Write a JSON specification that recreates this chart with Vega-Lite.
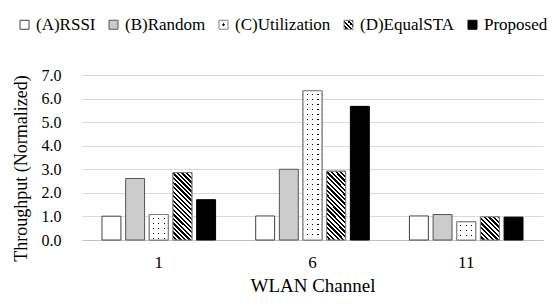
{"$schema":"https://vega.github.io/schema/vega-lite/v6.json","width":461,"height":165,"autosize":{"type":"none"},"padding":{"left":82,"top":75,"right":13,"bottom":68},"background":"white",
"config":{"font":"Liberation Serif","view":{"stroke":null},"axis":{"labelColor":"#000","titleColor":"#000","titleFontWeight":"normal","labelFont":"Liberation Serif","titleFont":"Liberation Serif"},"legend":{"labelFont":"Liberation Serif"}},
"data":{"values":[
{"channel":"1","method":"(A)RSSI","value":1.01},{"channel":"1","method":"(B)Random","value":2.61},{"channel":"1","method":"(C)Utilization","value":1.08},{"channel":"1","method":"(D)EqualSTA","value":2.86},{"channel":"1","method":"Proposed","value":1.71},
{"channel":"6","method":"(A)RSSI","value":1.02},{"channel":"6","method":"(B)Random","value":3.0},{"channel":"6","method":"(C)Utilization","value":6.33},{"channel":"6","method":"(D)EqualSTA","value":2.92},{"channel":"6","method":"Proposed","value":5.67},
{"channel":"11","method":"(A)RSSI","value":1.02},{"channel":"11","method":"(B)Random","value":1.08},{"channel":"11","method":"(C)Utilization","value":0.77},{"channel":"11","method":"(D)EqualSTA","value":0.98},{"channel":"11","method":"Proposed","value":0.97}]},
"encoding":{
"x":{"field":"channel","type":"nominal","scale":{"domain":["1","6","11"],"paddingInner":0.261,"paddingOuter":0.13},"axis":{"title":"WLAN Channel","labelAngle":0,"ticks":false,"domain":true,"domainColor":"#bfbfbf","grid":false,"labelFontSize":17,"labelPadding":14,"titleFontSize":19,"titlePadding":6}},
"xOffset":{"field":"method","type":"nominal","scale":{"domain":["(A)RSSI","(B)Random","(C)Utilization","(D)EqualSTA","Proposed"],"paddingInner":0.2,"paddingOuter":0}},
"y":{"field":"value","type":"quantitative","scale":{"domain":[0,7],"nice":false},"axis":{"title":"Throughput (Normalized)","values":[0,1,2,3,4,5,6,7],"format":".1f","domain":false,"ticks":false,"grid":true,"gridColor":"#d9d9d9","labelFontSize":16,"labelPadding":21,"titleFontSize":18,"titleX":-61,"titleY":93,"titleBaseline":"middle"}}},
"layer":[
{"mark":{"type":"bar","strokeWidth":1},"encoding":{
"fill":{"field":"method","type":"nominal","scale":{"domain":["(A)RSSI","(B)Random","(C)Utilization","(D)EqualSTA","Proposed"],"range":["#fff","#ccc",
{"expr":"{gradient:'radial',x1:.5,y1:.5,r1:0,x2:.5,y2:.5,r2:.5,stops:[{offset:0,color:'#000'},{offset:.24,color:'#000'},{offset:.24,color:'#fff'},{offset:1,color:'#fff'}]}"},
{"expr":"{gradient:'linear',x1:0,y1:1,x2:1,y2:0,stops:[{offset:0,color:'#fff'},{offset:.125,color:'#fff'},{offset:.125,color:'#000'},{offset:.25,color:'#000'},{offset:.25,color:'#fff'},{offset:.375,color:'#fff'},{offset:.375,color:'#000'},{offset:.5,color:'#000'},{offset:.5,color:'#fff'},{offset:.625,color:'#fff'},{offset:.625,color:'#000'},{offset:.75,color:'#000'},{offset:.75,color:'#fff'},{offset:.875,color:'#fff'},{offset:.875,color:'#000'},{offset:1,color:'#000'}]}"},
"#000"]},
"legend":{"orient":"none","legendX":-66,"legendY":-59,"direction":"horizontal","title":null,"symbolType":"square","symbolSize":81,"symbolStrokeWidth":1,"labelFont":"Liberation Serif","labelFontSize":17,"labelColor":"#000","columnPadding":9,"labelOffset":3,"padding":0}},
"stroke":{"field":"method","type":"nominal","scale":{"domain":["(A)RSSI","(B)Random","(C)Utilization","(D)EqualSTA","Proposed"],"range":["#404040","#555","#808080","#808080","#000"]}}}},
{"transform":[{"filter":"datum.method==='(C)Utilization'"}],"mark":{"type":"bar","stroke":"#808080","strokeWidth":1,"fill":{"gradient":"linear","x1":0,"y1":0,"x2":1,"y2":0,"stops":[
{"offset":0,"color":"#fff"},{"offset":0.184,"color":"#fff"},{"offset":0.184,"color":"#000"},{"offset":0.247,"color":"#000"},{"offset":0.247,"color":"#fff"},
{"offset":0.474,"color":"#fff"},{"offset":0.474,"color":"#000"},{"offset":0.537,"color":"#000"},{"offset":0.537,"color":"#fff"},
{"offset":0.763,"color":"#fff"},{"offset":0.763,"color":"#000"},{"offset":0.826,"color":"#000"},{"offset":0.826,"color":"#fff"},{"offset":1,"color":"#fff"}]}}},
{"transform":[{"filter":"datum.method==='(C)Utilization'&&datum.channel==='1'"}],"mark":{"type":"bar","stroke":"#808080","strokeWidth":1,"fill":{"gradient":"linear","x1":0,"y1":0,"x2":0,"y2":1,"stops":[
{"offset":0,"color":"#fff"},
{"offset":0.119,"color":"#fff"},{"offset":0.119,"color":"transparent"},{"offset":0.1665,"color":"transparent"},{"offset":0.1665,"color":"#fff"},
{"offset":0.3172,"color":"#fff"},{"offset":0.3172,"color":"transparent"},{"offset":0.3648,"color":"transparent"},{"offset":0.3648,"color":"#fff"},
{"offset":0.5155,"color":"#fff"},{"offset":0.5155,"color":"transparent"},{"offset":0.563,"color":"transparent"},{"offset":0.563,"color":"#fff"},
{"offset":0.7137,"color":"#fff"},{"offset":0.7137,"color":"transparent"},{"offset":0.7613,"color":"transparent"},{"offset":0.7613,"color":"#fff"},
{"offset":0.912,"color":"#fff"},{"offset":0.912,"color":"transparent"},{"offset":0.9596,"color":"transparent"},{"offset":0.9596,"color":"#fff"},
{"offset":1,"color":"#fff"}]}}},
{"transform":[{"filter":"datum.method==='(C)Utilization'&&datum.channel==='11'"}],"mark":{"type":"bar","stroke":"#808080","strokeWidth":1,"fill":{"gradient":"linear","x1":0,"y1":0,"x2":0,"y2":1,"stops":[
{"offset":0,"color":"#fff"},
{"offset":0.1653,"color":"#fff"},{"offset":0.1653,"color":"transparent"},{"offset":0.2314,"color":"transparent"},{"offset":0.2314,"color":"#fff"},
{"offset":0.4408,"color":"#fff"},{"offset":0.4408,"color":"transparent"},{"offset":0.5069,"color":"transparent"},{"offset":0.5069,"color":"#fff"},
{"offset":0.7163,"color":"#fff"},{"offset":0.7163,"color":"transparent"},{"offset":0.7824,"color":"transparent"},{"offset":0.7824,"color":"#fff"},
{"offset":1,"color":"#fff"}]}}},
{"transform":[{"filter":"datum.method==='(C)Utilization'&&datum.channel==='6'"}],"mark":{"type":"bar","stroke":"#808080","strokeWidth":1,"fill":{"gradient":"linear","x1":0,"y1":0,"x2":0,"y2":1,"stops":[
{"offset":0,"color":"#fff"},
{"offset":0.0201,"color":"#fff"},{"offset":0.0201,"color":"transparent"},{"offset":0.0282,"color":"transparent"},{"offset":0.0282,"color":"#fff"},
{"offset":0.0537,"color":"#fff"},{"offset":0.0537,"color":"transparent"},{"offset":0.0617,"color":"transparent"},{"offset":0.0617,"color":"#fff"},
{"offset":0.0872,"color":"#fff"},{"offset":0.0872,"color":"transparent"},{"offset":0.0953,"color":"transparent"},{"offset":0.0953,"color":"#fff"},
{"offset":0.1208,"color":"#fff"},{"offset":0.1208,"color":"transparent"},{"offset":0.1289,"color":"transparent"},{"offset":0.1289,"color":"#fff"},
{"offset":0.1544,"color":"#fff"},{"offset":0.1544,"color":"transparent"},{"offset":0.1624,"color":"transparent"},{"offset":0.1624,"color":"#fff"},
{"offset":0.1879,"color":"#fff"},{"offset":0.1879,"color":"transparent"},{"offset":0.196,"color":"transparent"},{"offset":0.196,"color":"#fff"},
{"offset":0.2215,"color":"#fff"},{"offset":0.2215,"color":"transparent"},{"offset":0.2295,"color":"transparent"},{"offset":0.2295,"color":"#fff"},
{"offset":0.255,"color":"#fff"},{"offset":0.255,"color":"transparent"},{"offset":0.2631,"color":"transparent"},{"offset":0.2631,"color":"#fff"},
{"offset":0.2886,"color":"#fff"},{"offset":0.2886,"color":"transparent"},{"offset":0.2966,"color":"transparent"},{"offset":0.2966,"color":"#fff"},
{"offset":0.3221,"color":"#fff"},{"offset":0.3221,"color":"transparent"},{"offset":0.3302,"color":"transparent"},{"offset":0.3302,"color":"#fff"},
{"offset":0.3557,"color":"#fff"},{"offset":0.3557,"color":"transparent"},{"offset":0.3638,"color":"transparent"},{"offset":0.3638,"color":"#fff"},
{"offset":0.3893,"color":"#fff"},{"offset":0.3893,"color":"transparent"},{"offset":0.3973,"color":"transparent"},{"offset":0.3973,"color":"#fff"},
{"offset":0.4228,"color":"#fff"},{"offset":0.4228,"color":"transparent"},{"offset":0.4309,"color":"transparent"},{"offset":0.4309,"color":"#fff"},
{"offset":0.4564,"color":"#fff"},{"offset":0.4564,"color":"transparent"},{"offset":0.4644,"color":"transparent"},{"offset":0.4644,"color":"#fff"},
{"offset":0.4899,"color":"#fff"},{"offset":0.4899,"color":"transparent"},{"offset":0.498,"color":"transparent"},{"offset":0.498,"color":"#fff"},
{"offset":0.5235,"color":"#fff"},{"offset":0.5235,"color":"transparent"},{"offset":0.5315,"color":"transparent"},{"offset":0.5315,"color":"#fff"},
{"offset":0.557,"color":"#fff"},{"offset":0.557,"color":"transparent"},{"offset":0.5651,"color":"transparent"},{"offset":0.5651,"color":"#fff"},
{"offset":0.5906,"color":"#fff"},{"offset":0.5906,"color":"transparent"},{"offset":0.5987,"color":"transparent"},{"offset":0.5987,"color":"#fff"},
{"offset":0.6242,"color":"#fff"},{"offset":0.6242,"color":"transparent"},{"offset":0.6322,"color":"transparent"},{"offset":0.6322,"color":"#fff"},
{"offset":0.6577,"color":"#fff"},{"offset":0.6577,"color":"transparent"},{"offset":0.6658,"color":"transparent"},{"offset":0.6658,"color":"#fff"},
{"offset":0.6913,"color":"#fff"},{"offset":0.6913,"color":"transparent"},{"offset":0.6993,"color":"transparent"},{"offset":0.6993,"color":"#fff"},
{"offset":0.7248,"color":"#fff"},{"offset":0.7248,"color":"transparent"},{"offset":0.7329,"color":"transparent"},{"offset":0.7329,"color":"#fff"},
{"offset":0.7584,"color":"#fff"},{"offset":0.7584,"color":"transparent"},{"offset":0.7664,"color":"transparent"},{"offset":0.7664,"color":"#fff"},
{"offset":0.7919,"color":"#fff"},{"offset":0.7919,"color":"transparent"},{"offset":0.8,"color":"transparent"},{"offset":0.8,"color":"#fff"},
{"offset":0.8255,"color":"#fff"},{"offset":0.8255,"color":"transparent"},{"offset":0.8336,"color":"transparent"},{"offset":0.8336,"color":"#fff"},
{"offset":0.8591,"color":"#fff"},{"offset":0.8591,"color":"transparent"},{"offset":0.8671,"color":"transparent"},{"offset":0.8671,"color":"#fff"},
{"offset":0.8926,"color":"#fff"},{"offset":0.8926,"color":"transparent"},{"offset":0.9007,"color":"transparent"},{"offset":0.9007,"color":"#fff"},
{"offset":0.9262,"color":"#fff"},{"offset":0.9262,"color":"transparent"},{"offset":0.9342,"color":"transparent"},{"offset":0.9342,"color":"#fff"},
{"offset":0.9597,"color":"#fff"},{"offset":0.9597,"color":"transparent"},{"offset":0.9678,"color":"transparent"},{"offset":0.9678,"color":"#fff"},
{"offset":1,"color":"#fff"}]}}},
{"transform":[{"filter":"datum.method==='(D)EqualSTA'&&datum.channel!=='11'"}],"mark":{"type":"bar","stroke":"#808080","strokeWidth":1,"fill":{"gradient":"linear","x1":0,"y1":1,"x2":0.3316,"y2":-0.1867,"stops":[
{"offset":0,"color":"#fff"},{"offset":0.0263,"color":"#fff"},{"offset":0.0263,"color":"#000"},{"offset":0.0526,"color":"#000"},
{"offset":0.0526,"color":"#fff"},{"offset":0.0789,"color":"#fff"},{"offset":0.0789,"color":"#000"},{"offset":0.1053,"color":"#000"},
{"offset":0.1053,"color":"#fff"},{"offset":0.1316,"color":"#fff"},{"offset":0.1316,"color":"#000"},{"offset":0.1579,"color":"#000"},
{"offset":0.1579,"color":"#fff"},{"offset":0.1842,"color":"#fff"},{"offset":0.1842,"color":"#000"},{"offset":0.2105,"color":"#000"},
{"offset":0.2105,"color":"#fff"},{"offset":0.2368,"color":"#fff"},{"offset":0.2368,"color":"#000"},{"offset":0.2632,"color":"#000"},
{"offset":0.2632,"color":"#fff"},{"offset":0.2895,"color":"#fff"},{"offset":0.2895,"color":"#000"},{"offset":0.3158,"color":"#000"},
{"offset":0.3158,"color":"#fff"},{"offset":0.3421,"color":"#fff"},{"offset":0.3421,"color":"#000"},{"offset":0.3684,"color":"#000"},
{"offset":0.3684,"color":"#fff"},{"offset":0.3947,"color":"#fff"},{"offset":0.3947,"color":"#000"},{"offset":0.4211,"color":"#000"},
{"offset":0.4211,"color":"#fff"},{"offset":0.4474,"color":"#fff"},{"offset":0.4474,"color":"#000"},{"offset":0.4737,"color":"#000"},
{"offset":0.4737,"color":"#fff"},{"offset":0.5,"color":"#fff"},{"offset":0.5,"color":"#000"},{"offset":0.5263,"color":"#000"},
{"offset":0.5263,"color":"#fff"},{"offset":0.5526,"color":"#fff"},{"offset":0.5526,"color":"#000"},{"offset":0.5789,"color":"#000"},
{"offset":0.5789,"color":"#fff"},{"offset":0.6053,"color":"#fff"},{"offset":0.6053,"color":"#000"},{"offset":0.6316,"color":"#000"},
{"offset":0.6316,"color":"#fff"},{"offset":0.6579,"color":"#fff"},{"offset":0.6579,"color":"#000"},{"offset":0.6842,"color":"#000"},
{"offset":0.6842,"color":"#fff"},{"offset":0.7105,"color":"#fff"},{"offset":0.7105,"color":"#000"},{"offset":0.7368,"color":"#000"},
{"offset":0.7368,"color":"#fff"},{"offset":0.7632,"color":"#fff"},{"offset":0.7632,"color":"#000"},{"offset":0.7895,"color":"#000"},
{"offset":0.7895,"color":"#fff"},{"offset":0.8158,"color":"#fff"},{"offset":0.8158,"color":"#000"},{"offset":0.8421,"color":"#000"},
{"offset":0.8421,"color":"#fff"},{"offset":0.8684,"color":"#fff"},{"offset":0.8684,"color":"#000"},{"offset":0.8947,"color":"#000"},
{"offset":0.8947,"color":"#fff"},{"offset":0.9211,"color":"#fff"},{"offset":0.9211,"color":"#000"},{"offset":0.9474,"color":"#000"},
{"offset":0.9474,"color":"#fff"},{"offset":0.9737,"color":"#fff"},{"offset":0.9737,"color":"#000"},{"offset":1,"color":"#000"}]}}},
{"transform":[{"filter":"datum.method==='(D)EqualSTA'&&datum.channel==='11'"}],"mark":{"type":"bar","stroke":"#808080","strokeWidth":1,"fill":{"gradient":"linear","x1":0,"y1":1,"x2":0.889,"y2":-0.09,"stops":[
{"offset":0,"color":"#fff"},{"offset":0.0556,"color":"#fff"},{"offset":0.0556,"color":"#000"},{"offset":0.1111,"color":"#000"},
{"offset":0.1111,"color":"#fff"},{"offset":0.1667,"color":"#fff"},{"offset":0.1667,"color":"#000"},{"offset":0.2222,"color":"#000"},
{"offset":0.2222,"color":"#fff"},{"offset":0.2778,"color":"#fff"},{"offset":0.2778,"color":"#000"},{"offset":0.3333,"color":"#000"},
{"offset":0.3333,"color":"#fff"},{"offset":0.3889,"color":"#fff"},{"offset":0.3889,"color":"#000"},{"offset":0.4444,"color":"#000"},
{"offset":0.4444,"color":"#fff"},{"offset":0.5,"color":"#fff"},{"offset":0.5,"color":"#000"},{"offset":0.5556,"color":"#000"},
{"offset":0.5556,"color":"#fff"},{"offset":0.6111,"color":"#fff"},{"offset":0.6111,"color":"#000"},{"offset":0.6667,"color":"#000"},
{"offset":0.6667,"color":"#fff"},{"offset":0.7222,"color":"#fff"},{"offset":0.7222,"color":"#000"},{"offset":0.7778,"color":"#000"},
{"offset":0.7778,"color":"#fff"},{"offset":0.8333,"color":"#fff"},{"offset":0.8333,"color":"#000"},{"offset":0.8889,"color":"#000"},
{"offset":0.8889,"color":"#fff"},{"offset":0.9444,"color":"#fff"},{"offset":0.9444,"color":"#000"},{"offset":1,"color":"#000"}]}}}
]}
